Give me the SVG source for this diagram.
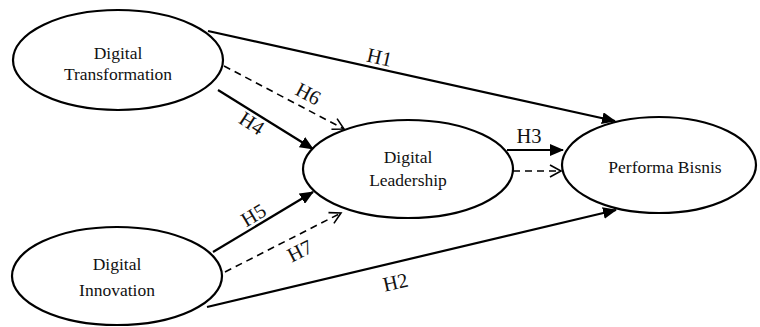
<svg xmlns="http://www.w3.org/2000/svg" width="760" height="327" viewBox="0 0 760 327">
<style>
.node{fill:#fff;stroke:#000;stroke-width:2.2}
.nt{font-family:'Liberation Serif','DejaVu Serif',serif;font-size:17.5px;fill:#111;text-anchor:middle}
.lbl{font-family:'Liberation Serif','DejaVu Serif',serif;font-size:20.5px;fill:#111;text-anchor:middle}
.solid{stroke:#000;stroke-width:2.2;fill:none;marker-end:url(#fill)}
.dash{stroke:#000;stroke-width:1.6;fill:none;stroke-dasharray:7 5;marker-end:url(#open)}
</style>
<defs>
<marker id="fill" markerUnits="userSpaceOnUse" markerWidth="14" markerHeight="12" refX="13" refY="6" orient="auto">
<path d="M0,0 L14,6 L0,12 Z" fill="#000"/>
</marker>
<marker id="open" markerUnits="userSpaceOnUse" markerWidth="14" markerHeight="14" refX="12" refY="7" orient="auto">
<path d="M1,1 L12,7 L1,13" fill="none" stroke="#000" stroke-width="1.6"/>
</marker>
</defs>
<g id="connectors">
<line class="solid" x1="208" y1="31" x2="615" y2="121"/>
<line class="dash" x1="224" y1="66" x2="344" y2="129"/>
<line class="solid" x1="218" y1="90" x2="313" y2="149"/>
<line class="solid" x1="507" y1="150" x2="563" y2="150"/>
<line class="dash" x1="513" y1="171" x2="561" y2="171"/>
<line class="solid" x1="213" y1="252" x2="313" y2="192"/>
<line class="dash" x1="225" y1="272" x2="341" y2="213"/>
<line class="solid" x1="207" y1="307" x2="616" y2="210"/>
<text class="lbl" font-family="Liberation Serif" transform="translate(378,64) rotate(13)">H1</text>
<text class="lbl" font-family="Liberation Serif" transform="translate(305,100) rotate(28)">H6</text>
<text class="lbl" font-family="Liberation Serif" transform="translate(248,129) rotate(33)">H4</text>
<text class="lbl" font-family="Liberation Serif" transform="translate(529,143)">H3</text>
<text class="lbl" font-family="Liberation Serif" transform="translate(257,221) rotate(-31)">H5</text>
<text class="lbl" font-family="Liberation Serif" transform="translate(303,257) rotate(-27)">H7</text>
<text class="lbl" font-family="Liberation Serif" transform="translate(397,289) rotate(-13)">H2</text>
</g>
<g id="digital-transformation">
<ellipse class="node" cx="118" cy="60" rx="105" ry="50"/>
<text class="nt" font-family="Liberation Serif" x="118" y="59">Digital</text>
<text class="nt" font-family="Liberation Serif" x="118" y="80">Transformation</text>
</g>
<g id="digital-leadership">
<ellipse class="node" cx="408" cy="169" rx="105" ry="49"/>
<text class="nt" font-family="Liberation Serif" x="408" y="163">Digital</text>
<text class="nt" font-family="Liberation Serif" x="408" y="186">Leadership</text>
</g>
<g id="performa-bisnis">
<ellipse class="node" cx="659" cy="165" rx="97" ry="48"/>
<text class="nt" font-family="Liberation Serif" x="665" y="173">Performa Bisnis</text>
</g>
<g id="digital-innovation">
<ellipse class="node" cx="117" cy="276" rx="105" ry="49"/>
<text class="nt" font-family="Liberation Serif" x="117" y="270">Digital</text>
<text class="nt" font-family="Liberation Serif" x="117" y="296">Innovation</text>
</g>
</svg>
